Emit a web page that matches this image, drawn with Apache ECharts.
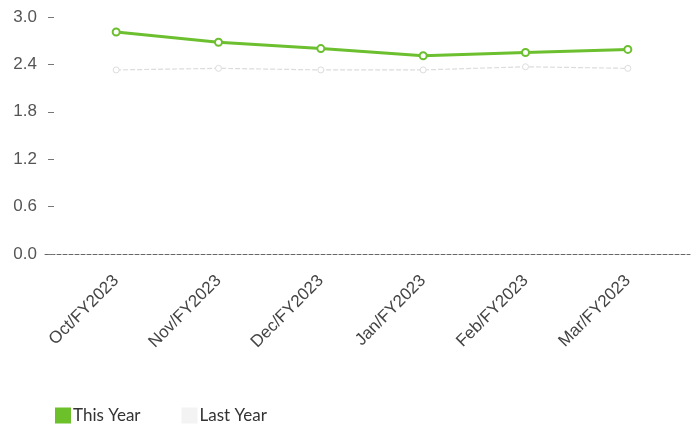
<!DOCTYPE html>
<html>
<head>
<meta charset="utf-8">
<script src="https://cdn.jsdelivr.net/npm/echarts@6/dist/echarts.min.js"></script>
<style>
html,body{margin:0;padding:0;background:#fff;}
#chart{width:696px;height:425px;}
</style>
</head>
<body>
<div id="chart"></div>
<script>
const categories = ['Oct/FY2023','Nov/FY2023','Dec/FY2023','Jan/FY2023','Feb/FY2023','Mar/FY2023'];
const thisYear = [2.81, 2.68, 2.60, 2.51, 2.55, 2.59];
const lastYear = [2.33, 2.35, 2.33, 2.33, 2.37, 2.35];
const yMin = 0, yMax = 3.0, yStep = 0.6;

const chart = echarts.init(document.getElementById('chart'));
chart.setOption({
  animation: false,
  backgroundColor: '#ffffff',
  grid: [
    {left: 65, right: 17, top: 17, bottom: 171},
    {left: 45, right: 6, top: 17, bottom: 171}
  ],
  legend: {
    left: 50, top: 402, padding: 5,
    itemWidth: 16, itemHeight: 16, itemGap: 41,
    textStyle: {fontFamily: 'Lato', fontSize: 17, color: '#333', padding: [0, 0, 0, -3]},
    data: [
      {name: 'This Year', icon: 'rect', itemStyle: {color: '#6cc12a', borderWidth: 0}},
      {name: 'Last Year', icon: 'rect', itemStyle: {color: '#f3f3f3', borderWidth: 0}}
    ]
  },
  xAxis: [
    {
      type: 'category', gridIndex: 0, data: categories, boundaryGap: true,
      axisLine: {show: false}, axisTick: {show: false},
      axisLabel: {rotate: 45, margin: 24, fontFamily: 'Liberation Sans', fontSize: 17, color: '#444', interval: 0}
    },
    {
      type: 'value', gridIndex: 1, min: 0, max: 1,
      axisLine: {show: true, lineStyle: {color: '#666', width: 1, type: [4, 2]}},
      axisTick: {show: false}, axisLabel: {show: false}, splitLine: {show: false}
    }
  ],
  yAxis: [
    {
      type: 'value', gridIndex: 0, min: yMin, max: yMax, interval: yStep, offset: 11,
      axisLine: {show: false},
      axisTick: {show: true, length: 6, lineStyle: {color: '#777'}},
      axisLabel: {margin: 17, fontFamily: 'Liberation Sans', fontSize: 17, color: '#555', formatter: v => v.toFixed(1)},
      splitLine: {show: false}
    },
    {
      type: 'value', gridIndex: 1, min: yMin, max: yMax, show: false
    }
  ],
  series: [
    {
      name: 'Last Year', type: 'line', xAxisIndex: 0, yAxisIndex: 0, data: lastYear,
      symbol: 'circle', symbolSize: 6, showSymbol: true,
      lineStyle: {color: '#dcdcdc', width: 1.2, type: [5, 2]},
      itemStyle: {color: '#ffffff', borderColor: '#dddddd', borderWidth: 1},
      z: 2
    },
    {
      name: 'This Year', type: 'line', xAxisIndex: 0, yAxisIndex: 0, data: thisYear,
      symbol: 'circle', symbolSize: 7, showSymbol: true,
      lineStyle: {color: '#6cbf2e', width: 3},
      itemStyle: {color: '#ffffff', borderColor: '#6cbf2e', borderWidth: 2},
      z: 3
    }
  ]
});
</script>
</body>
</html>
